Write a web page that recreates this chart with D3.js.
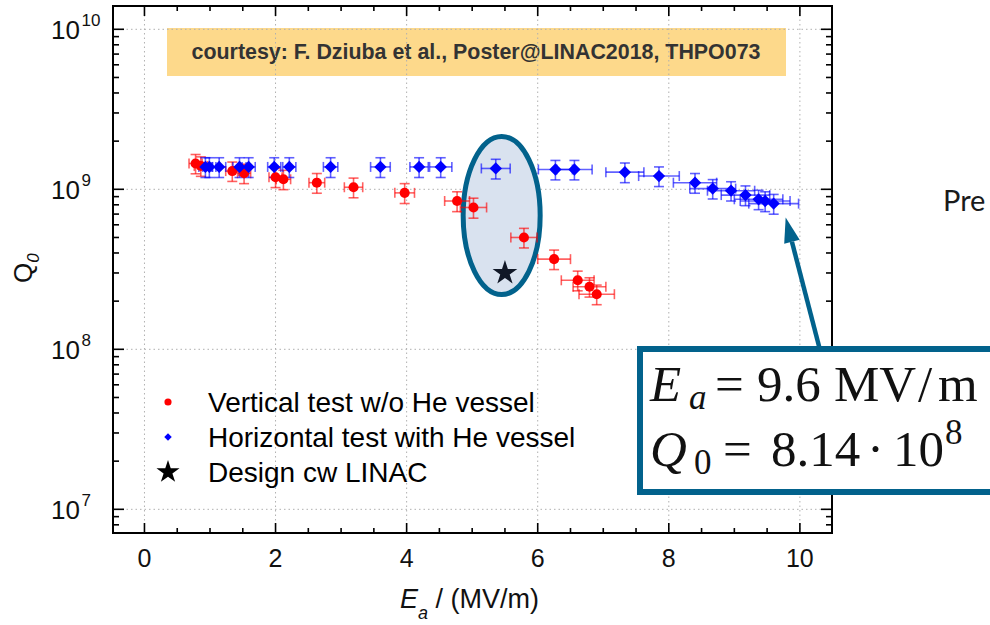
<!DOCTYPE html>
<html>
<head>
<meta charset="utf-8">
<script src="https://cdn.jsdelivr.net/npm/d3@7"></script>
<style>
  html, body { margin: 0; padding: 0; background: #fff; overflow: hidden; }
  svg { display: block; font-family: "Liberation Sans", Arial, sans-serif; }
</style>
</head>
<body>
<svg id="chart" width="990" height="625"></svg>
<script>
// Vertical test without helium vessel: accelerating gradient (MV/m), Q0 and uncertainties
const vertE    = [0.78, 0.86, 1.34, 1.52, 2.00, 2.12, 2.63, 3.19, 3.97, 4.77, 5.02, 5.79, 6.25, 6.61, 6.79, 6.90];
const vertQ    = [1.45e9, 1.40e9, 1.30e9, 1.26e9, 1.19e9, 1.155e9, 1.10e9, 1.03e9, 9.5e8, 8.45e8, 7.7e8, 5.0e8, 3.66e8, 2.70e8, 2.46e8, 2.21e8];
const vertEErr = [0.10, 0.10, 0.10, 0.10, 0.10, 0.11, 0.12, 0.14, 0.15, 0.19, 0.20, 0.20, 0.25, 0.25, 0.25, 0.27];
const vertQErr = [2.0e8, 1.95e8, 1.8e8, 1.75e8, 1.65e8, 1.6e8, 1.55e8, 1.45e8, 1.35e8, 1.2e8, 1.1e8, 7.0e7, 5.1e7, 3.8e7, 3.4e7, 3.1e7];

// Horizontal test with helium vessel
const horE    = [0.93, 0.99, 1.14, 1.45, 1.59, 1.98, 2.21, 2.84, 3.60, 4.19, 4.52, 5.36, 6.27, 6.56, 7.33, 7.85, 8.40, 8.67, 8.95, 9.17, 9.37, 9.47, 9.60];
const horQ    = [1.38e9, 1.38e9, 1.38e9, 1.38e9, 1.38e9, 1.38e9, 1.38e9, 1.38e9, 1.38e9, 1.38e9, 1.38e9, 1.35e9, 1.33e9, 1.33e9, 1.28e9, 1.21e9, 1.10e9, 1.01e9, 9.8e8, 9.2e8, 8.66e8, 8.45e8, 8.14e8];
const horEErr = [0.10, 0.10, 0.10, 0.10, 0.10, 0.10, 0.10, 0.11, 0.15, 0.14, 0.17, 0.22, 0.26, 0.27, 0.29, 0.31, 0.33, 0.35, 0.36, 0.37, 0.37, 0.38, 0.38];
const horQErr = [1.95e8, 1.95e8, 1.95e8, 1.95e8, 1.95e8, 1.95e8, 1.95e8, 1.95e8, 1.95e8, 1.95e8, 1.95e8, 1.9e8, 1.85e8, 1.85e8, 1.8e8, 1.7e8, 1.55e8, 1.4e8, 1.35e8, 1.3e8, 1.2e8, 1.2e8, 1.15e8];

// Design point of the cw LINAC
const designE = [5.5];
const designQ = [3.0e8];

// Axis ticks
const xTicks = [0, 2, 4, 6, 8, 10];
const xMinorStep = 0.5;
const yTickExp = [7, 8, 9, 10];

const legendLabels = ["Vertical test w/o He vessel", "Horizontal test with He vessel", "Design cw LINAC"];

const svg = d3.select("#chart");
const plot = { left: 113, right: 832, top: 6, bottom: 533 };

const x = d3.scaleLinear().domain([-0.48, 10.49]).range([plot.left, plot.right]);
const y = d3.scaleLog().domain([Math.pow(10, 6.852), Math.pow(10, 10.1456)]).range([plot.bottom, plot.top]);

const RED = "#ff0000", BLUE = "#0000ff", TEAL = "#02628c";

svg.append("rect").attr("width", 990).attr("height", 625).attr("fill", "#fff");

// Credit banner
svg.append("rect").attr("x", 167).attr("y", 28).attr("width", 619).attr("height", 48).attr("fill", "#fdd98b");
svg.append("text").attr("x", 476).attr("y", 58.5).attr("text-anchor", "middle")
  .attr("font-size", 21.4).attr("font-weight", "bold").attr("fill", "#333")
  .text("courtesy: F. Dziuba et al., Poster@LINAC2018, THPO073");

// Grid
const grid = svg.append("g").attr("stroke", "#b0b0b0").attr("stroke-width", 1).attr("stroke-dasharray", "1.5,3");
grid.selectAll("line.gx").data(xTicks).join("line").attr("class", "gx")
  .attr("x1", d => x(d)).attr("x2", d => x(d)).attr("y1", plot.top).attr("y2", plot.bottom);
grid.selectAll("line.gy").data(yTickExp).join("line").attr("class", "gy")
  .attr("x1", plot.left).attr("x2", plot.right).attr("y1", d => y(Math.pow(10, d))).attr("y2", d => y(Math.pow(10, d)));

// Highlight ellipse around the design region
svg.append("ellipse")
  .attr("cx", x(5.45)).attr("cy", y(6.86e8)).attr("rx", 38.5).attr("ry", 79)
  .attr("fill", "#d9e2ef").attr("stroke", TEAL).attr("stroke-width", 5);

// Error bars
function errorBars(E, Q, dE, dQ, color) {
  const g = svg.append("g").attr("stroke", color).attr("stroke-opacity", 0.62).attr("stroke-width", 1.6).attr("fill", "none");
  const cap = 5;
  E.forEach((e, i) => {
    const cx = x(e), cy = y(Q[i]);
    const x0 = x(e - dE[i]), x1 = x(e + dE[i]);
    const y0 = y(Q[i] - dQ[i]), y1 = y(Q[i] + dQ[i]);
    g.append("line").attr("x1", x0).attr("x2", x1).attr("y1", cy).attr("y2", cy);
    g.append("line").attr("x1", x0).attr("x2", x0).attr("y1", cy - cap).attr("y2", cy + cap);
    g.append("line").attr("x1", x1).attr("x2", x1).attr("y1", cy - cap).attr("y2", cy + cap);
    g.append("line").attr("x1", cx).attr("x2", cx).attr("y1", y0).attr("y2", y1);
    g.append("line").attr("x1", cx - cap).attr("x2", cx + cap).attr("y1", y0).attr("y2", y0);
    g.append("line").attr("x1", cx - cap).attr("x2", cx + cap).attr("y1", y1).attr("y2", y1);
  });
}
errorBars(vertE, vertQ, vertEErr, vertQErr, RED);
errorBars(horE, horQ, horEErr, horQErr, BLUE);

// Markers
const circle = d3.symbol(d3.symbolCircle, 80)();
const diamond = d3.symbol(d3.symbolSquare, 76)();
const star = d3.symbol(d3.symbolStar, 190)();

svg.append("g").selectAll("path").data(vertE.map((e, i) => [e, vertQ[i]])).join("path")
  .attr("d", circle).attr("fill", RED)
  .attr("transform", d => `translate(${x(d[0])},${y(d[1])})`);
svg.append("g").selectAll("path").data(horE.map((e, i) => [e, horQ[i]])).join("path")
  .attr("d", diamond).attr("fill", BLUE)
  .attr("transform", d => `translate(${x(d[0])},${y(d[1])}) rotate(45)`);
svg.append("g").selectAll("path").data(designE.map((e, i) => [e, designQ[i]])).join("path")
  .attr("d", star).attr("fill", "#111827")
  .attr("transform", d => `translate(${x(d[0])},${y(d[1])})`);

// Frame and ticks
const axes = svg.append("g").attr("stroke", "#000");
axes.append("rect").attr("x", plot.left).attr("y", plot.top)
  .attr("width", plot.right - plot.left).attr("height", plot.bottom - plot.top)
  .attr("fill", "none").attr("stroke-width", 2);

const xMinor = d3.range(-0.5, 10.51, xMinorStep).filter(v => !xTicks.includes(v) && x(v) > plot.left + 2 && x(v) < plot.right - 2);
const tickX = (vals, len) => {
  axes.selectAll(null).data(vals).join("line")
    .attr("x1", d => x(d)).attr("x2", d => x(d)).attr("y1", plot.bottom).attr("y2", plot.bottom - len).attr("stroke-width", 1.6);
  axes.selectAll(null).data(vals).join("line")
    .attr("x1", d => x(d)).attr("x2", d => x(d)).attr("y1", plot.top).attr("y2", plot.top + len).attr("stroke-width", 1.6);
};
tickX(xTicks, 10);
tickX(xMinor, 5);

const yMajor = yTickExp.map(e => Math.pow(10, e));
const yMinor = [];
[6, 7, 8, 9, 10].forEach(e => d3.range(2, 10).forEach(m => {
  const v = m * Math.pow(10, e);
  if (y(v) > plot.top + 2 && y(v) < plot.bottom - 2) yMinor.push(v);
}));
const tickY = (vals, len) => {
  axes.selectAll(null).data(vals).join("line")
    .attr("y1", d => y(d)).attr("y2", d => y(d)).attr("x1", plot.left).attr("x2", plot.left + len).attr("stroke-width", 1.6);
  axes.selectAll(null).data(vals).join("line")
    .attr("y1", d => y(d)).attr("y2", d => y(d)).attr("x1", plot.right).attr("x2", plot.right - len).attr("stroke-width", 1.6);
};
tickY(yMajor, 11);
tickY(yMinor, 6);

// Tick labels
svg.append("g").selectAll("text").data(xTicks).join("text")
  .attr("x", d => x(d)).attr("y", 567).attr("text-anchor", "middle")
  .attr("font-size", 25).attr("fill", "#111").text(d => d);

const ylab = svg.append("g").selectAll("g").data(yTickExp).join("g")
  .attr("transform", d => `translate(0,${y(Math.pow(10, d))})`);
ylab.append("text").attr("x", 80).attr("y", 9.5).attr("text-anchor", "end")
  .attr("font-size", 26).attr("fill", "#111").text("10");
ylab.append("text").attr("x", 81.5).attr("y", -3).attr("font-size", 17).attr("fill", "#111").text(d => d);

// Axis titles
const xt = svg.append("text").attr("x", 400).attr("y", 608).attr("font-size", 27).attr("fill", "#111");
xt.append("tspan").attr("font-style", "italic").text("E");
xt.append("tspan").attr("font-style", "italic").attr("font-size", 18).attr("dy", 11).text("a");
xt.append("tspan").attr("dy", -11).text(" / (MV/m)");

const yt = svg.append("text").attr("transform", "translate(32,283) rotate(-90)").attr("font-size", 26).attr("fill", "#111");
yt.append("tspan").text("Q");
yt.append("tspan").attr("font-style", "italic").attr("font-size", 17).attr("dy", 7).text("0");

// Legend
const legend = svg.append("g");
const legendY = [402, 437, 472];
legend.append("path").attr("d", d3.symbol(d3.symbolCircle, 40)()).attr("fill", RED).attr("transform", `translate(168,${legendY[0]})`);
legend.append("path").attr("d", d3.symbol(d3.symbolSquare, 28)()).attr("fill", BLUE).attr("transform", `translate(168,${legendY[1]}) rotate(45)`);
legend.append("path").attr("d", d3.symbol(d3.symbolStar, 165)()).attr("fill", "#000").attr("transform", `translate(168,${legendY[2]})`);
legend.selectAll("text").data(legendLabels).join("text")
  .attr("x", 208).attr("y", (d, i) => legendY[i] + 9.5).attr("font-size", 28).attr("fill", "#000").text(d => d);

// Arrow pointing at the last horizontal-test point
const tipX = x(horE[horE.length - 1]) + 12, tipY = y(horQ[horQ.length - 1]) + 14;
const baseX = 820, baseY = 350;
const ang = Math.atan2(tipY - baseY, tipX - baseX);
const headLen = 25, headHalf = 8;
const hbX = tipX - headLen * Math.cos(ang), hbY = tipY - headLen * Math.sin(ang);
svg.append("line").attr("x1", baseX).attr("y1", baseY).attr("x2", hbX).attr("y2", hbY)
  .attr("stroke", TEAL).attr("stroke-width", 4.5);
svg.append("path").attr("fill", TEAL).attr("d",
  `M${tipX},${tipY} L${hbX + headHalf * Math.sin(ang)},${hbY - headHalf * Math.cos(ang)} L${hbX - headHalf * Math.sin(ang)},${hbY + headHalf * Math.cos(ang)} Z`);

// Callout box with the maximum gradient
svg.append("rect").attr("x", 640).attr("y", 349).attr("width", 420).attr("height", 143)
  .attr("fill", "#fff").attr("stroke", TEAL).attr("stroke-width", 6);
const serif = "'Liberation Serif', 'Times New Roman', serif";
const l1 = svg.append("text").attr("font-family", serif).attr("font-size", 51).attr("fill", "#111");
l1.append("tspan").attr("x", 650).attr("y", 401).attr("font-style", "italic").text("E");
l1.append("tspan").attr("x", 689).attr("y", 409).attr("font-style", "italic").attr("font-size", 35).text("a");
l1.append("tspan").attr("x", 715).attr("y", 401).text("=");
l1.append("tspan").attr("x", 757).attr("y", 401).text("9.6");
l1.append("tspan").attr("x", 834).attr("y", 401).text("MV");
l1.append("tspan").attr("x", 918).attr("y", 401).text("/");
l1.append("tspan").attr("x", 938).attr("y", 401).text("m");

const l2 = svg.append("text").attr("font-family", serif).attr("font-size", 51).attr("fill", "#111");
l2.append("tspan").attr("x", 650).attr("y", 466).attr("font-style", "italic").text("Q");
l2.append("tspan").attr("x", 694).attr("y", 474).attr("font-size", 35).text("0");
l2.append("tspan").attr("x", 723).attr("y", 466).text("=");
l2.append("tspan").attr("x", 771).attr("y", 466).text("8.14");
l2.append("tspan").attr("x", 867).attr("y", 466).text("·");
l2.append("tspan").attr("x", 893).attr("y", 466).text("10");
l2.append("tspan").attr("x", 945).attr("y", 444).attr("font-size", 35).text("8");

// Slide text at the right edge
svg.append("text").attr("x", 943).attr("y", 211).attr("font-family", "Lato, 'Open Sans', sans-serif")
  .attr("font-size", 29).attr("fill", "#1a1a1a").text("Pre");
</script>
</body>
</html>
